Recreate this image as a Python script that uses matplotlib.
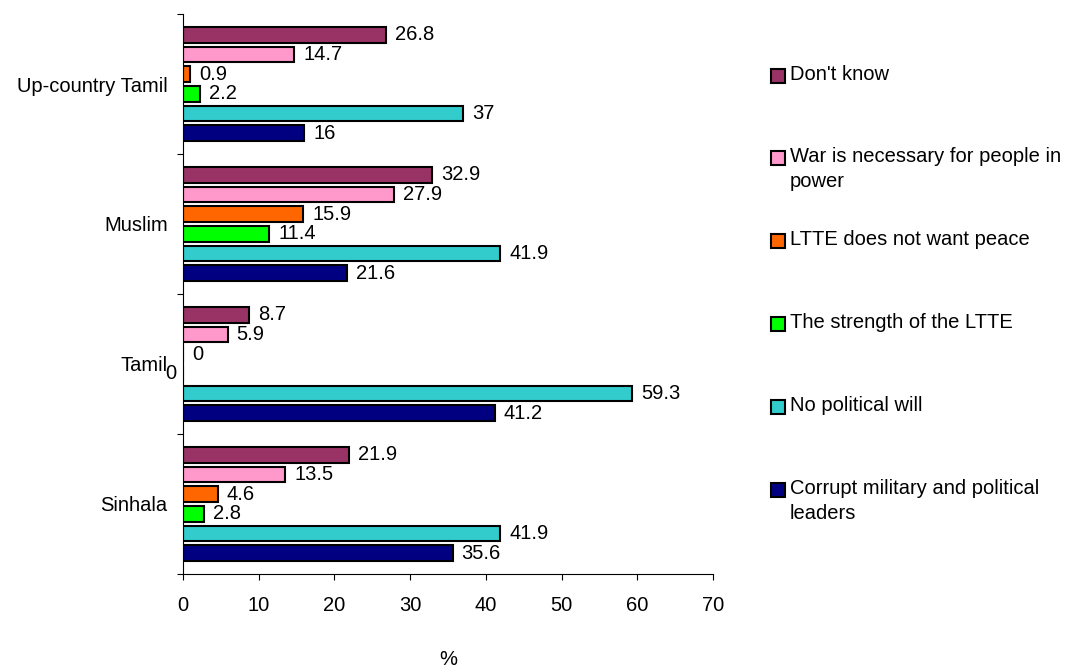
import numpy as np
import matplotlib.pyplot as plt
from matplotlib.patches import Rectangle

plt.rcParams['font.family'] = ['Liberation Sans', 'DejaVu Sans']
plt.rcParams['font.size'] = 14.5

# groups listed bottom to top
groups = ["Sinhala", "Tamil", "Muslim", "Up-country Tamil"]
# series listed bottom to top inside each group
series = ["Corrupt military and political\nleaders", "No political will",
          "The strength of the LTTE", "LTTE does not want peace",
          "War is necessary for people in\npower", "Don't know"]
colors = ["#000080", "#33CCCC", "#00FF00", "#FF6600", "#FF99CC", "#993366"]

corrupt = [35.6, 41.2, 21.6, 16]
no_will = [41.9, 59.3, 41.9, 37]
strength = [2.8, 0, 11.4, 2.2]
ltte = [4.6, 0, 15.9, 0.9]
war = [13.5, 5.9, 27.9, 14.7]
dont_know = [21.9, 8.7, 32.9, 26.8]
values = [corrupt, no_will, strength, ltte, war, dont_know]

fig = plt.figure(figsize=(10.71, 6.7), dpi=100)
ax = fig.add_axes([0.1709, 0.1433, 0.4948, 0.8358])

slot = 0.1407
h = slot * 0.80
centers = np.arange(len(groups)) + 0.5
for i, (vals, col) in enumerate(zip(values, colors)):
    y = centers + (i - 2.5) * slot
    ax.barh(y, vals, height=h, color=col, edgecolor='black', linewidth=1.5)
    for g, (yy, v) in enumerate(zip(y, vals)):
        dx = 6.5
        if v == 0 and i == 2:
            dx = -13  # excel pushed this one left onto the category label
        ax.annotate(f"{v:g}", (v, yy), xytext=(dx, 0), textcoords='offset points',
                    ha='left', va='center')

ax.set_xlim(0, 70)
ax.set_ylim(0, 4)
ax.set_xticks(range(0, 71, 10))
ax.set_yticks(range(0, 5))
ax.set_yticklabels([])
ax.set_yticks(centers, minor=True)
ax.set_yticklabels(groups, minor=True)
ax.tick_params(axis='y', which='minor', length=0, pad=11)
ax.tick_params(axis='y', which='major', length=4, direction='out')
ax.tick_params(axis='x', length=4, direction='out', pad=12)
for s in ['top', 'right']:
    ax.spines[s].set_visible(False)
ax.set_xlabel("%", labelpad=25)

# legend drawn by hand, top entry first, like the excel one
W, H = 1071, 670
for k in range(len(series)):
    i = len(series) - 1 - k
    yc = 75.5 + k * 82.9
    fig.add_artist(Rectangle((771 / W, 1 - (yc + 7) / H), 14 / W, 14 / H,
                             transform=fig.transFigure, facecolor=colors[i],
                             edgecolor='black', linewidth=1.5))
    fig.text(790 / W, 1 - (yc - 11) / H, series[i], ha='left', va='top',
             linespacing=1.37)

fig.savefig("out.png", dpi=100)
